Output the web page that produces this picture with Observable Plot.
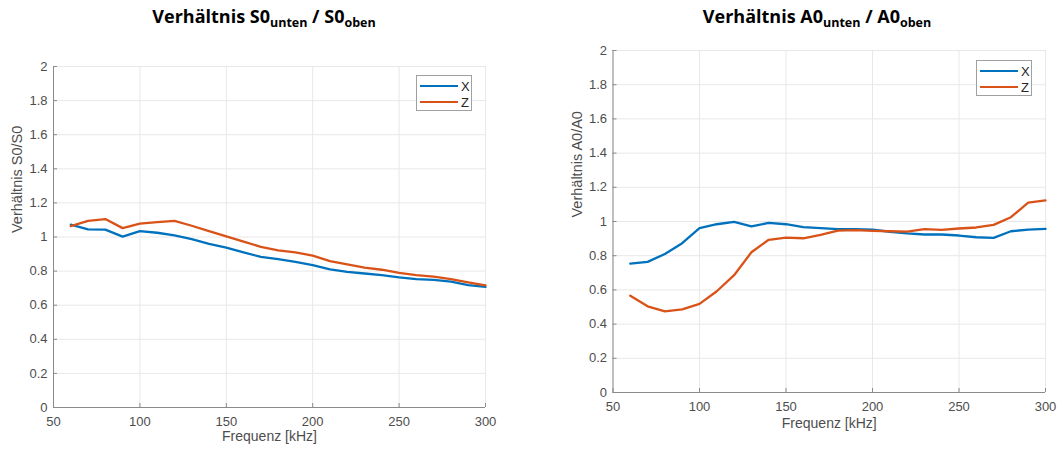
<!DOCTYPE html>
<html>
<head>
<meta charset="utf-8">
<script src="https://cdn.jsdelivr.net/npm/d3@7"></script>
<script src="https://cdn.jsdelivr.net/npm/@observablehq/plot@0.6"></script>
<style>
  html, body { margin: 0; padding: 0; background: #fff; }
  #wrap { position: relative; width: 1058px; height: 453px; overflow: hidden; font-family: "Liberation Sans", Arial, sans-serif; }
  .panel { position: absolute; top: 0; }
  .title { position: absolute; top: 4px; transform: translateX(-50%); white-space: nowrap;
           font-family: "Open Sans", "DejaVu Sans", sans-serif; font-weight: 700; font-size: 18px; color: #000; }
  .title sub { font-size: 12.5px; vertical-align: -4px; line-height: 0; }
  .legend { position: absolute; background: #fff; border: 1px solid #a0a0a0; width: 56px; height: 36px; box-sizing: border-box;
            font-family: "Liberation Sans", Arial, sans-serif; font-size: 13px; color: #262626; }
  .legend .row { position: absolute; left: 3px; height: 14px; display: flex; align-items: center; }
  .legend .sw { width: 38px; height: 2.5px; margin-right: 3px; }
</style>
</head>
<body>
<div id="wrap"></div>
<script>
// ---- data ----
const freq = [60,70,80,90,100,110,120,130,140,150,160,170,180,190,200,210,220,230,240,250,260,270,280,290,300];
const s0X = [1.072,1.045,1.043,1.002,1.035,1.025,1.010,0.988,0.960,0.938,0.910,0.883,0.870,0.854,0.835,0.810,0.796,0.786,0.777,0.763,0.753,0.748,0.738,0.718,0.708];
const s0Z = [1.064,1.095,1.105,1.052,1.078,1.087,1.095,1.066,1.035,1.004,0.973,0.942,0.922,0.910,0.891,0.858,0.839,0.821,0.808,0.790,0.777,0.767,0.753,0.734,0.716];
const a0X = [0.754,0.764,0.810,0.873,0.961,0.984,0.998,0.971,0.992,0.984,0.967,0.961,0.955,0.955,0.953,0.940,0.930,0.924,0.924,0.918,0.908,0.904,0.943,0.953,0.957];
const a0Z = [0.566,0.504,0.475,0.486,0.518,0.592,0.686,0.820,0.893,0.906,0.902,0.922,0.947,0.949,0.945,0.943,0.941,0.955,0.951,0.959,0.965,0.980,1.025,1.111,1.123];
const xTicks = [50,100,150,200,250,300];
const yTicks = [0,0.2,0.4,0.6,0.8,1,1.2,1.4,1.6,1.8,2];
const seriesNames = ["X","Z"];
const colors = ["#0072BD","#D95319"];
const xLabel = "Frequenz [kHz]";

const zip = (vals) => freq.map((f, i) => ({f, v: vals[i]}));
const fmt = d => String(+d.toFixed(1));

function chart({mL, mR, mT, mB, ylab, dX, dZ, xlabDy}) {
  return Plot.plot({
    width: 529, height: 453,
    marginLeft: mL, marginRight: mR, marginTop: mT, marginBottom: mB,
    style: {fontFamily: "'Liberation Sans', Arial, sans-serif", fontSize: "13px", color: "#4d4d4d", background: "white", overflow: "visible"},
    x: {domain: [50, 300]},
    y: {domain: [0, 2]},
    marks: [
      Plot.gridX(xTicks, {stroke: "#e8e8e8", strokeOpacity: 1}),
      Plot.gridY(yTicks, {stroke: "#e8e8e8", strokeOpacity: 1}),
      Plot.ruleX([50], {stroke: "#8a8a8a"}),
      Plot.ruleY([0], {stroke: "#8a8a8a"}),
      Plot.axisX(xTicks, {tickSize: -4, tickPadding: 13, label: null, stroke: "#8a8a8a", fill: "#4d4d4d"}),
      Plot.axisY(yTicks, {tickSize: -4, tickPadding: 10, tickFormat: fmt, label: null, stroke: "#8a8a8a", fill: "#4d4d4d"}),
      Plot.line(zip(dX), {x: "f", y: "v", stroke: colors[0], strokeWidth: 2.3}),
      Plot.line(zip(dZ), {x: "f", y: "v", stroke: colors[1], strokeWidth: 2.3}),
      Plot.text([xLabel], {frameAnchor: "bottom", dy: xlabDy, fontSize: 14, fill: "#4d4d4d"}),
      Plot.text([ylab], {frameAnchor: "left", rotate: -90, dx: -36, dy: -4, fontSize: 14.5, fill: "#4d4d4d"})
    ]
  });
}

const wrap = document.getElementById("wrap");

function addPanel(left, svg, titleHTML, titleX, legLeft, legTop) {
  const p = document.createElement("div");
  p.className = "panel";
  p.style.left = left + "px";
  p.appendChild(svg);
  wrap.appendChild(p);
  const t = document.createElement("div");
  t.className = "title";
  t.style.left = titleX + "px";
  t.innerHTML = titleHTML;
  wrap.appendChild(t);
  const lg = document.createElement("div");
  lg.className = "legend";
  lg.style.left = legLeft + "px";
  lg.style.top = legTop + "px";
  seriesNames.forEach((n, i) => {
    const r = document.createElement("div");
    r.className = "row";
    r.style.top = (3 + i * 16) + "px";
    r.innerHTML = `<span class="sw" style="background:${colors[i]}"></span><span>${n}</span>`;
    lg.appendChild(r);
  });
  wrap.appendChild(lg);
}

addPanel(0, chart({mL: 53, mR: 44, mT: 66, mB: 46, ylab: "Verhältnis S0/S0", dX: s0X, dZ: s0Z, xlabDy: 33}),
  "Verhältnis S0<sub>unten</sub> / S0<sub>oben</sub>", 264, 416, 75);
addPanel(529, chart({mL: 83.5, mR: 13, mT: 50, mB: 61, ylab: "Verhältnis A0/A0", dX: a0X, dZ: a0Z, xlabDy: 35}),
  "Verhältnis A0<sub>unten</sub> / A0<sub>oben</sub>", 817, 976, 60);
</script>
</body>
</html>
